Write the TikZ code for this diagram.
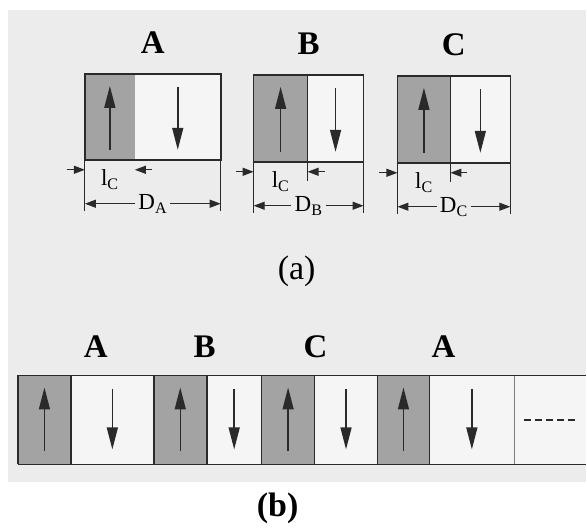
\documentclass[tikz,border=0pt]{standalone}
\usepackage{fontspec}
\setmainfont{Liberation Serif}
\usetikzlibrary{arrows.meta, positioning}
\definecolor{paper}{HTML}{ECECEC}
\definecolor{domgray}{HTML}{A3A3A3}
\definecolor{domwhite}{HTML}{F5F5F5}
\definecolor{ink}{HTML}{2A2A2A}

\begin{document}
\begin{tikzpicture}[x=1pt, y=-1pt, cell/.style={anchor=north west, inner sep=0pt, outer sep=0pt}, upcell/.style={cell, fill=domgray}, downcell/.style={cell, fill=domwhite}, frame/.style={cell, draw=ink, line width=1.6pt}, wall/.style={draw=ink, line width=1.6pt}, ext/.style={draw=ink, line width=1pt}, spin/.style={-{Triangle[length=22pt, width=11pt]}, draw=ink, line width=1.5pt}, dimarr/.style={-{Triangle[length=11pt, width=8pt]}, draw=ink, line width=1.1pt}, letter/.style={font=\fontsize{33}{33}\selectfont\bfseries, anchor=base}, dimtext/.style={font=\fontsize{23}{23}\selectfont, inner sep=3pt}, caption/.style={font=\fontsize{34}{34}\selectfont}]
\fill[white] (0,0) rectangle (587,523);\fill[paper] (8,10) rectangle (587,483);
% (a) the three single domains
\foreach \n/\x/\y/\gw/\ww/\h in {A/85/74/50/86/86, B/254/75/54/56/87, C/398/76/53/60/87} {
\node[upcell, minimum width=\gw pt, minimum height=\h pt] (up\n) at (\x,\y) {};
\node[downcell, minimum width=\ww pt, minimum height=\h pt, right=0pt of up\n] (dn\n) {};
\node[frame, minimum width=\gw pt+\ww pt, minimum height=\h pt] (box\n) at (\x,\y) {};
\node[letter] (lab\n) at ([yshift=20pt]box\n.north) {\n};
\draw[spin] ([yshift=10pt]up\n.south) -- ([yshift=-12pt]up\n.north);\draw[spin] ([yshift=-13pt]dn\n.north) -- ([yshift=10pt]dn\n.south);
\draw[ext] (box\n.south west) -- ++(0,51);\draw[ext] (box\n.south east) -- ++(0,51);
\draw[dimarr] ([xshift=-18pt, yshift=-10pt]up\n.south west) -- ([yshift=-10pt]up\n.south west);\draw[dimarr] ([xshift=17pt, yshift=-10pt]up\n.south east) -- ([yshift=-10pt]up\n.south east);
\node[dimtext] (lc\n) at ([yshift=-20pt]up\n.south) {l\textsubscript{C}};
\node[dimtext] (D\n) at ([yshift=-44pt]box\n.south) {D\textsubscript{\n}};
\draw[dimarr] (D\n.west) -- (D\n.west -| box\n.west);\draw[dimarr] (D\n.east) -- (D\n.east -| box\n.east);
}
\foreach \n in {B, C} {\draw[wall] (up\n.north east) -- (up\n.south east);\draw[ext] (up\n.south east) -- ++(0,19);}
\node[caption] (capa) at (297,272) {(a)};
% (b) the periodic stack
\foreach \i/\x/\gw/\ww/\lx/\lab in {1/18/53/83/96/A, 2/154/53/55/205/B, 3/262/53/63/316/C, 4/378/52/85/444/A} {
\node[upcell, minimum width=\gw pt, minimum height=89pt] (sg\i) at (\x,376) {};
\node[downcell, minimum width=\ww pt, minimum height=89pt, right=0pt of sg\i] (sw\i) {};
\draw[wall] (sg\i.north west) -- (sg\i.south west);\draw[wall] (sg\i.north east) -- (sg\i.south east);
\draw[spin] ([yshift=13pt]sg\i.south) -- ([yshift=-12pt]sg\i.north);\draw[spin] ([yshift=-14pt]sw\i.north) -- ([yshift=15pt]sw\i.south);
\node[letter] (top\i) at (\lx,358) {\lab};
}
\node[downcell, minimum width=72pt, minimum height=89pt, right=0pt of sw4] (tail) {};
\draw[ink!60, line width=0.8pt] (sw4.north east) -- (sw4.south east);
\draw[wall] (sg1.north west) -- (tail.north east);\draw[wall] (sg1.south west) -- (tail.south east);
\draw[ink, line width=1.4pt, dash pattern=on 7pt off 4pt] ([xshift=10pt]tail.west) -- ([xshift=-10pt]tail.east);
\node[caption, font=\fontsize{34}{34}\selectfont\bfseries] (capb) at (278,509) {(b)};
\end{tikzpicture}
\end{document}
